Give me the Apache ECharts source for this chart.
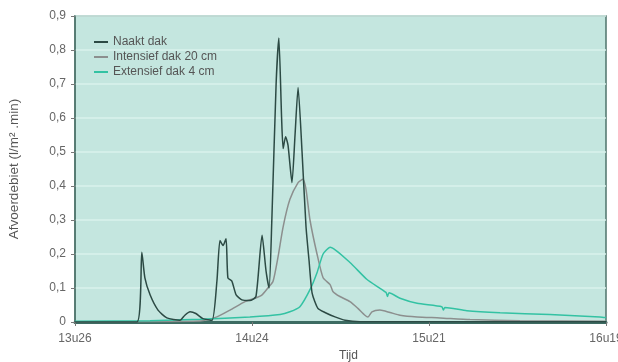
<!DOCTYPE html>
<html>
<head>
<meta charset="utf-8">
<script src="https://cdn.jsdelivr.net/npm/echarts@6/dist/echarts.min.js"></script>
<style>
  html, body { margin: 0; padding: 0; background: #fff; }
  #chart { width: 618px; height: 362px; }
</style>
</head>
<body>
<div id="chart"></div>
<script>
// x = minutes after 13u26
const xTickLabels = ['13u26', '14u24', '15u21', '16u19'];

const naaktDak = [
  [0, 0], [20.3, 0], [21.9, 0.205], [22.9, 0.13], [24.6, 0.08], [27.2, 0.035],
  [30.1, 0.012], [34.4, 0.005], [36.0, 0.02], [37.7, 0.03], [39.6, 0.025],
  [41.9, 0.01], [44.9, 0.005], [46.5, 0.12], [47.5, 0.24], [48.5, 0.225],
  [49.5, 0.245], [50.1, 0.13], [51.4, 0.12], [52.8, 0.08], [54.7, 0.065],
  [57.3, 0.063], [59.3, 0.075], [61.3, 0.255], [62.6, 0.15], [63.6, 0.1],
  [64.5, 0.3], [65.9, 0.7], [66.8, 0.835], [67.7, 0.6], [68.2, 0.51],
  [69.0, 0.545], [69.8, 0.52], [71.1, 0.41], [72.1, 0.55], [73.1, 0.69],
  [74.4, 0.5], [75.7, 0.28], [76.7, 0.18], [77.7, 0.085], [79.6, 0.04],
  [81.9, 0.028], [85.2, 0.015], [88.5, 0.005], [93.4, 0.001], [174, 0.001]
];

const intensiefDak = [
  [0, 0.001], [41.0, 0.003], [46.5, 0.015], [50.8, 0.035], [55.7, 0.06],
  [59.0, 0.07], [61.3, 0.08], [63.2, 0.1], [64.9, 0.12], [66.5, 0.19],
  [68.2, 0.28], [70.4, 0.36], [73.1, 0.41], [74.7, 0.42], [75.7, 0.39],
  [77.0, 0.30], [79.3, 0.20], [81.3, 0.13], [83.6, 0.11], [84.5, 0.09],
  [86.8, 0.075], [90.1, 0.06], [92.7, 0.04], [95.0, 0.02], [96.0, 0.015],
  [97.3, 0.03], [99.9, 0.035], [103.2, 0.028], [106.5, 0.02], [112.1, 0.015],
  [119.6, 0.012], [129.4, 0.007], [145.8, 0.004], [174, 0.002]
];

const extensiefDak = [
  [0, 0.002], [24.6, 0.004], [41.0, 0.008], [57.3, 0.015], [67.2, 0.022],
  [70.4, 0.03], [73.7, 0.045], [77.0, 0.095], [79.3, 0.145], [81.3, 0.2],
  [83.6, 0.22], [90.1, 0.175], [95.7, 0.125], [101.9, 0.087], [102.4, 0.075],
  [102.9, 0.086], [106.5, 0.07], [112.1, 0.055], [120.2, 0.045], [120.7, 0.035],
  [121.2, 0.043], [128.4, 0.033], [139.3, 0.027], [155.6, 0.022], [172.0, 0.015],
  [174, 0.013]
];

const chart = echarts.init(document.getElementById('chart'), null, { renderer: 'canvas' });

const lineSeries = (name, data, color) => ({
  name,
  type: 'line',
  data,
  showSymbol: false,
  smooth: 0.2,
  lineStyle: { color, width: 1.5 },
  itemStyle: { color },
  z: name === 'Naakt dak' ? 4 : 3
});

chart.setOption({
  animation: false,
  textStyle: { fontFamily: 'Liberation Sans, Arial, sans-serif' },
  grid: {
    left: 75, right: 12, top: 16, bottom: 40,
    outerBoundsMode: 'none',
    containLabel: false,
    show: true,
    backgroundColor: '#c4e6df',
    borderColor: '#4f746c',
    borderWidth: 1.5
  },
  legend: {
    orient: 'vertical',
    left: 89,
    top: 31,
    icon: 'rect',
    itemWidth: 14,
    itemHeight: 2,
    itemGap: 3,
    textStyle: { fontSize: 12, color: '#555' },
    data: ['Naakt dak', 'Intensief dak 20 cm', 'Extensief dak 4 cm']
  },
  xAxis: {
    type: 'value',
    min: 0,
    max: 174,
    interval: 58,
    name: 'Tijd',
    nameLocation: 'middle',
    nameGap: 24,
    nameTextStyle: { fontSize: 12, color: '#555', padding: [0, 0, 0, 16] },
    axisLine: { lineStyle: { color: '#3d6b62', width: 3 } },
    axisTick: { show: true, length: 4, lineStyle: { color: '#777' } },
    axisLabel: {
      fontSize: 12, color: '#666', margin: 11,
      formatter: v => xTickLabels[Math.round(v / 58)]
    },
    splitLine: { show: false }
  },
  yAxis: {
    type: 'value',
    min: 0,
    max: 0.9,
    interval: 0.1,
    name: 'Afvoerdebiet (l/m² .min)',
    nameLocation: 'middle',
    nameGap: 54,
    nameTextStyle: { fontSize: 13.5, color: '#555' },
    axisLine: { show: true, lineStyle: { color: '#4f746c', width: 1.5 } },
    axisTick: { show: true, length: 4, lineStyle: { color: '#777' } },
    axisLabel: {
      fontSize: 12, color: '#666', margin: 9,
      formatter: v => v === 0 ? '0' : v.toFixed(1).replace('.', ',')
    },
    splitLine: { show: true, lineStyle: { color: '#daf2ed', width: 1.5 } }
  },
  series: [
    lineSeries('Naakt dak', naaktDak, '#2c4a44'),
    lineSeries('Intensief dak 20 cm', intensiefDak, '#8c8f8e'),
    lineSeries('Extensief dak 4 cm', extensiefDak, '#33c2a3')
  ]
});
</script>
</body>
</html>
